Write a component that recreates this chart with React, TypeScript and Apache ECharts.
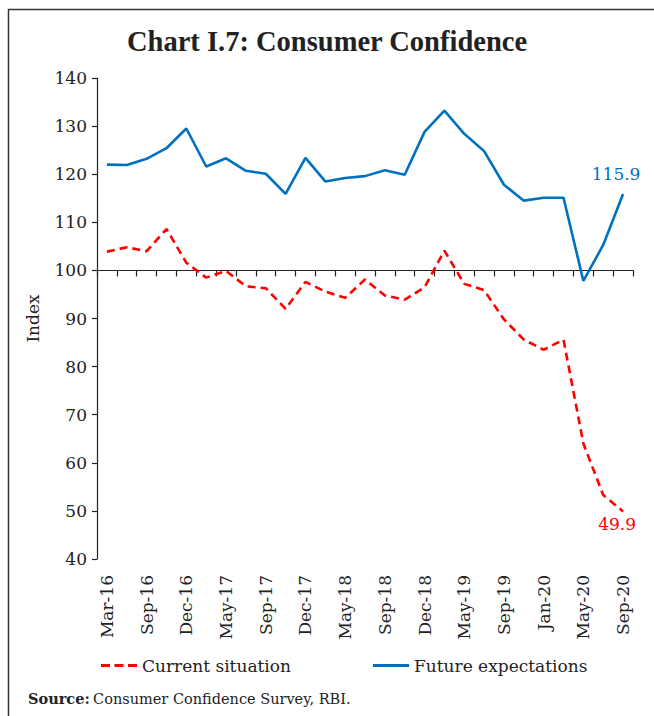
import React, { useEffect, useRef } from "react";
import * as echarts from "echarts";

const categories = [
  "Mar-16", "Jun-16", "Sep-16", "Nov-16", "Dec-16", "Mar-17", "May-17", "Jul-17", "Sep-17",
  "Nov-17", "Dec-17", "Mar-18", "May-18", "Jul-18", "Sep-18", "Nov-18", "Dec-18", "Mar-19",
  "May-19", "Jul-19", "Sep-19", "Nov-19", "Jan-20", "Mar-20", "May-20", "Jul-20", "Sep-20",
];

const currentSituation = [
  103.9, 104.8, 104.0, 108.6, 101.6, 98.5, 99.9, 96.7, 96.3, 92.0, 97.6, 95.6, 94.3, 98.1,
  94.8, 93.9, 96.5, 104.1, 97.2, 95.9, 89.8, 85.6, 83.5, 85.6, 64.0, 53.3, 49.9,
];

const futureExpectations = [
  122.0, 121.9, 123.2, 125.4, 129.5, 121.6, 123.3, 120.7, 120.1, 115.9, 123.4, 118.5, 119.2,
  119.6, 120.8, 119.9, 128.8, 133.2, 128.4, 124.8, 117.8, 114.5, 115.1, 115.1, 97.8, 105.3, 115.9,
];

const seriesNames = ["Current situation", "Future expectations"];
const yMin = 40;
const yMax = 140;
const yInterval = 10;
const crossValue = 100;

const SERIF = "'DejaVu Serif', 'Liberation Serif', serif";
const TITLE_FONT = "'Liberation Serif', 'DejaVu Serif', serif";

export default function App() {
  const ref = useRef<HTMLDivElement>(null);

  useEffect(() => {
    document.body.style.margin = "0";
    if (!ref.current) return;
    const chart = echarts.init(ref.current, undefined, { renderer: "svg" });
    const gridTop = 78;
    const gridBottom = 157;
    const gridHeight = 716 - gridTop - gridBottom;
    const crossOffset = -((crossValue - yMin) / (yMax - yMin)) * gridHeight;
    const last = categories.length - 1;

    chart.setOption({
      animation: false,
      backgroundColor: "#ffffff",
      title: {
        text: "Chart I.7: Consumer Confidence",
        left: "center",
        top: 22,
        textStyle: { fontFamily: TITLE_FONT, fontWeight: "bold", fontSize: 28.5, color: "#222" },
      },
      graphic: [
        {
          type: "rect",
          silent: true,
          z: 100,
          shape: { x: 8.5, y: 9.5, width: 700, height: 800 },
          style: { fill: "none", stroke: "#333333", lineWidth: 1.5 },
        },
        {
          type: "text",
          left: 28,
          top: 691,
          style: {
            rich: {
              b: { fontFamily: SERIF, fontWeight: "bold", fontSize: 14.5, fill: "#222" },
              n: { fontFamily: SERIF, fontSize: 14.5, fill: "#222" },
            },
            text: "{b|Source:} {n|Consumer Confidence Survey, RBI.}",
          },
        },
      ],
      legend: {
        data: [
          { name: seriesNames[0], icon: "path://M0,0 h9 v3 h-9 z M13.5,0 h9 v3 h-9 z M27,0 h9 v3 h-9 z" },
          { name: seriesNames[1], icon: "rect" },
        ],
        left: 96,
        top: 652,
        itemWidth: 36,
        itemHeight: 3,
        itemGap: 82,
        textStyle: { fontFamily: SERIF, fontSize: 17, color: "#222" },
      },
      grid: { left: 97, right: 21, top: gridTop, bottom: gridBottom, containLabel: false },
      xAxis: [
        {
          type: "category",
          data: categories,
          boundaryGap: true,
          position: "bottom",
          axisLine: { show: false },
          axisTick: { show: false },
          axisLabel: {
            interval: 1,
            rotate: 90,
            margin: 16,
            fontFamily: SERIF,
            fontSize: 17,
            color: "#222",
          },
        },
        {
          type: "category",
          data: categories,
          boundaryGap: true,
          position: "bottom",
          offset: crossOffset,
          axisLine: { show: true, onZero: false, lineStyle: { color: "#222", width: 1.2 } },
          axisTick: { show: true, interval: 0, length: 6, lineStyle: { color: "#222", width: 1.2 } },
          axisLabel: { show: false },
        },
      ],
      yAxis: {
        type: "value",
        min: yMin,
        max: yMax,
        interval: yInterval,
        name: "Index",
        nameLocation: "middle",
        nameGap: 56,
        nameTextStyle: { fontFamily: SERIF, fontSize: 17, color: "#222" },
        axisLine: { show: true, lineStyle: { color: "#222", width: 1.2 } },
        axisTick: { show: true, length: 5, lineStyle: { color: "#222", width: 1.2 } },
        axisLabel: { fontFamily: SERIF, fontSize: 17, color: "#222", margin: 10 },
        splitLine: { show: false },
      },
      series: [
        {
          name: seriesNames[0],
          type: "line",
          data: currentSituation,
          xAxisIndex: 0,
          symbol: "none",
          color: "#ff0000",
          lineStyle: { color: "#ff0000", width: 2.6, type: [8, 5] },
          markPoint: {
            symbol: "circle",
            symbolSize: 0,
            data: [{ coord: [categories[last], currentSituation[last]], value: currentSituation[last] }],
            label: {
              show: true,
              position: "bottom",
              distance: 4,
              offset: [-6, 0],
              fontFamily: SERIF,
              fontSize: 17,
              color: "#ff0000",
            },
          },
          z: 3,
        },
        {
          name: seriesNames[1],
          type: "line",
          data: futureExpectations,
          xAxisIndex: 0,
          symbol: "none",
          color: "#0070c0",
          lineStyle: { color: "#0070c0", width: 2.6 },
          markPoint: {
            symbol: "circle",
            symbolSize: 0,
            data: [{ coord: [categories[last], futureExpectations[last]], value: futureExpectations[last] }],
            label: {
              show: true,
              position: "top",
              distance: 11,
              offset: [-7, 0],
              fontFamily: SERIF,
              fontSize: 17,
              color: "#0070c0",
            },
          },
          z: 4,
        },
      ],
    });
    return () => chart.dispose();
  }, []);

  return <div ref={ref} style={{ width: 654, height: 716 }} />;
}
